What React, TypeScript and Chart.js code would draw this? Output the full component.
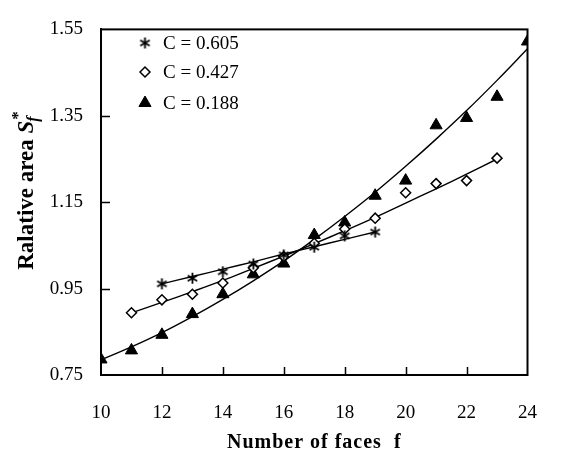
import React, { useEffect, useRef } from 'react';
import { Chart, registerables } from 'chart.js';
import { drawPoint } from 'chart.js/helpers';

Chart.register(...registerables);

// x-axis: number of faces f
const faces605 = [12, 13, 14, 15, 16, 17, 18, 19];
const area605 = [0.961, 0.974, 0.989, 1.007, 1.028, 1.046, 1.072, 1.081];
const fit605 = [0.961, 0.978, 0.995, 1.012, 1.030, 1.047, 1.064, 1.081];

const faces427 = [11, 12, 13, 14, 15, 16, 17, 18, 19, 20, 21, 22, 23];
const area427 = [0.894, 0.924, 0.937, 0.963, 0.998, 1.024, 1.055, 1.088, 1.113, 1.172, 1.193, 1.200, 1.252];
const fit427 = [0.894, 0.918, 0.943, 0.969, 0.997, 1.025, 1.054, 1.084, 1.115, 1.148, 1.181, 1.215, 1.250];

const faces188 = [10, 11, 12, 13, 14, 15, 16, 17, 18, 19, 20, 21, 22, 23, 24];
const area188 = [0.786, 0.807, 0.843, 0.891, 0.937, 0.983, 1.008, 1.074, 1.103, 1.165, 1.200, 1.328, 1.345, 1.394, 1.522];
const fit188 = [0.785, 0.815, 0.848, 0.885, 0.925, 0.968, 1.014, 1.064, 1.117, 1.173, 1.233, 1.296, 1.362, 1.432, 1.505];

const legendLabels = ['C = 0.605', 'C = 0.427', 'C = 0.188'];
const xTitle = 'Number of faces  f';
const yTitleMain = 'Ralative area ';
const yTitleSym = 'S';
const yTitleSub = 'f';
const yTitleSup = '*';

const xMin = 10, xMax = 24, xStep = 2;
const yMin = 0.75, yMax = 1.55, yStep = 0.2;

const SERIF = "'Liberation Serif', 'Times New Roman', serif";

const toPts = (xs: number[], ys: number[]) => xs.map((x, i) => ({ x, y: ys[i] }));

function makeAsterisk(): HTMLCanvasElement {
  const c = document.createElement('canvas');
  c.width = 13; c.height = 13;
  const g = c.getContext('2d') as CanvasRenderingContext2D;
  g.strokeStyle = '#000';
  g.lineWidth = 1.8;
  g.lineCap = 'butt';
  const cx = 6.5, cy = 6.5, r = 5.5;
  g.beginPath();
  [90, 30, 150].forEach((deg) => {
    const a = (deg * Math.PI) / 180;
    g.moveTo(cx - r * Math.cos(a), cy - r * Math.sin(a));
    g.lineTo(cx + r * Math.cos(a), cy + r * Math.sin(a));
  });
  g.stroke();
  return c;
}

const markerStyles: any[] = [
  { pointStyle: 'star', radius: 6, borderWidth: 1.8, fill: '#000' },
  { pointStyle: 'rectRot', radius: 5, borderWidth: 1.5, fill: '#fff' },
  { pointStyle: 'triangle', radius: 7, borderWidth: 1, fill: '#000' },
];

const decorPlugin = {
  id: 'decor',
  afterDraw(chart: any) {
    const { ctx, chartArea } = chart;
    const { left, right, top, bottom } = chartArea;
    const xs = chart.scales.x;
    const ys = chart.scales.y;
    ctx.save();
    // frame
    ctx.strokeStyle = '#000';
    ctx.lineWidth = 2;
    ctx.strokeRect(left, top, right - left, bottom - top);
    // inward ticks
    ctx.lineWidth = 1.5;
    ctx.beginPath();
    xs.ticks.forEach((t: any) => {
      if (t.value <= xMin || t.value >= xMax) return;
      const px = Math.round(xs.getPixelForValue(t.value)) + 0.5;
      ctx.moveTo(px, bottom);
      ctx.lineTo(px, bottom - 8);
    });
    ys.ticks.forEach((t: any) => {
      if (t.value <= yMin + 1e-6 || t.value >= yMax - 1e-6) return;
      const py = Math.round(ys.getPixelForValue(t.value)) + 0.5;
      ctx.moveTo(left, py);
      ctx.lineTo(left + 9, py);
    });
    ctx.stroke();

    // legend
    const rowY = [43, 72, 103];
    legendLabels.forEach((lab, i) => {
      const s = markerStyles[i];
      ctx.fillStyle = s.fill;
      ctx.strokeStyle = '#000';
      ctx.lineWidth = s.borderWidth;
      drawPoint(ctx, { pointStyle: s.pointStyle, radius: s.radius, borderWidth: s.borderWidth, rotation: 0 } as any, 145, rowY[i]);
      ctx.fillStyle = '#000';
      ctx.font = `19px ${SERIF}`;
      ctx.textAlign = 'left';
      ctx.textBaseline = 'middle';
      ctx.fillText(lab, 163, rowY[i] + 1);
    });

    // x title
    ctx.fillStyle = '#000';
    ctx.font = `bold 20px ${SERIF}`;
    ctx.textAlign = 'center';
    ctx.textBaseline = 'alphabetic';
    (ctx as any).letterSpacing = '1px';
    ctx.fillText(xTitle, (left + right) / 2, 448);
    (ctx as any).letterSpacing = '0px';

    // y title (rotated, with italic S, subscript f and superscript *)
    ctx.save();
    ctx.translate(33, 191);
    ctx.rotate(-Math.PI / 2);
    ctx.textAlign = 'left';
    const fMain = `bold 23px ${SERIF}`;
    const fSym = `italic bold 23px ${SERIF}`;
    const fSub = `italic bold 16px ${SERIF}`;
    const fSup = `bold 17px ${SERIF}`;
    ctx.font = fMain; const w1 = ctx.measureText(yTitleMain).width;
    ctx.font = fSym; const w2 = ctx.measureText(yTitleSym).width;
    ctx.font = fSub; const w3 = ctx.measureText(yTitleSub).width;
    ctx.font = fSup; const w4 = ctx.measureText(yTitleSup).width;
    let cx = -(w1 + w2 + Math.max(w3, w4)) / 2;
    ctx.font = fMain; ctx.fillText(yTitleMain, cx, 0); cx += w1;
    ctx.font = fSym; ctx.fillText(yTitleSym, cx, 0); cx += w2;
    ctx.font = fSub; ctx.fillText(yTitleSub, cx - 1, 5);
    ctx.font = fSup; ctx.fillText(yTitleSup, cx + 1, -10);
    ctx.restore();

    ctx.restore();
  },
};

export default function App() {
  const ref = useRef<HTMLCanvasElement | null>(null);
  useEffect(() => {
    document.body.style.margin = '0';
    const canvas = ref.current;
    if (!canvas) return;
    markerStyles[0].pointStyle = makeAsterisk();
    const lineDs = (xs: number[], ys: number[]) => ({
      data: toPts(xs, ys),
      showLine: true,
      borderColor: '#000',
      borderWidth: 1.4,
      pointRadius: 0,
      tension: 0.4,
      fill: false,
      order: 2,
    });
    const markDs = (xs: number[], ys: number[], i: number) => ({
      data: toPts(xs, ys),
      showLine: false,
      pointStyle: markerStyles[i].pointStyle,
      pointRadius: markerStyles[i].radius,
      pointBorderWidth: markerStyles[i].borderWidth,
      pointBorderColor: '#000',
      pointBackgroundColor: markerStyles[i].fill,
      borderColor: '#000',
      backgroundColor: markerStyles[i].fill,
      order: 1,
    });
    const chart = new Chart(canvas, {
      type: 'scatter',
      data: {
        datasets: [
          lineDs(faces605, fit605),
          lineDs(faces427, fit427),
          lineDs(faces188, fit188),
          markDs(faces605, area605, 0),
          markDs(faces427, area427, 1),
          markDs(faces188, area188, 2),
        ] as any,
      },
      options: {
        animation: false,
        responsive: false,
        maintainAspectRatio: false,
        layout: { padding: { top: 15, right: 27, left: 0, bottom: 0 } },
        plugins: { legend: { display: false }, tooltip: { enabled: false } },
        scales: {
          x: {
            type: 'linear',
            min: xMin,
            max: xMax,
            grid: { display: false, drawTicks: false },
            border: { display: true, color: '#000', width: 2 },
            ticks: {
              stepSize: xStep,
              color: '#000',
              font: { family: SERIF, size: 19 },
              padding: 27,
              maxRotation: 0,
            },
            afterFit: (s: any) => { s.height = 81; },
          },
          y: {
            type: 'linear',
            min: yMin,
            max: yMax,
            grid: { display: false, drawTicks: false },
            border: { display: true, color: '#000', width: 2 },
            ticks: {
              stepSize: yStep,
              color: '#000',
              font: { family: SERIF, size: 19 },
              padding: 18,
              callback: (v: any) => Number(v).toFixed(2),
            },
            afterFit: (s: any) => { s.width = 101; },
          },
        },
      },
      plugins: [decorPlugin],
    });
    return () => chart.destroy();
  }, []);
  return (
    <div style={{ width: 564, height: 456, position: 'relative', background: '#fff' }}>
      <canvas ref={ref} width={564} height={456} />
    </div>
  );
}
